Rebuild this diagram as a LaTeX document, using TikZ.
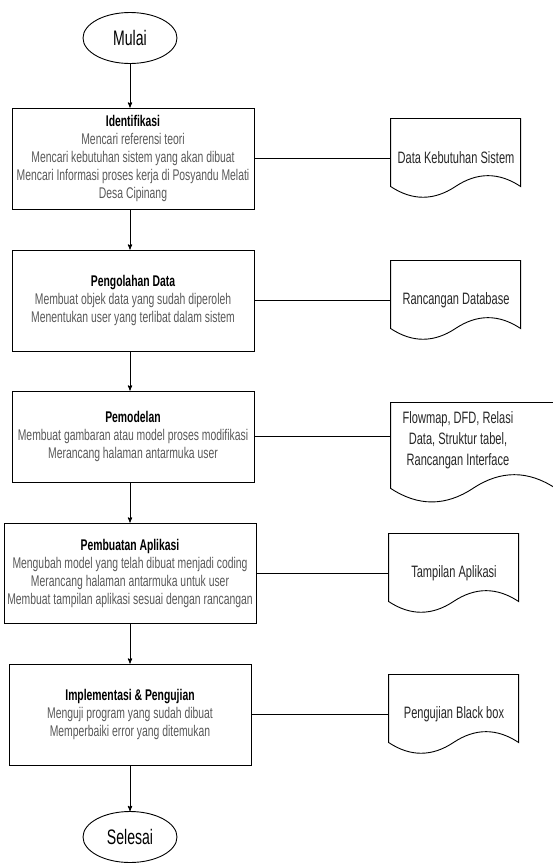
\documentclass[tikz,border=0pt]{standalone}
\usepackage{fontspec}
\setmainfont{Liberation Sans}[FakeStretch=0.67]
\usepackage{tikz}
\usetikzlibrary{arrows, shapes.geometric}
\definecolor{txtgray}{gray}{0.35}

\begin{document}
\begin{tikzpicture}[x=1pt,y=-1pt,>=stealth',line width=0.9pt,
    box/.style={draw,rectangle,minimum width=242pt,align=center,text=txtgray,font=\fontsize{15.5}{18}\selectfont},
    term/.style={draw,ellipse,minimum width=94pt,minimum height=51pt,inner sep=0pt,font=\fontsize{21}{24}\selectfont},
    doc/.style={rectangle,minimum width=130pt,minimum height=80pt,align=center,text=black!85,font=\fontsize{16.5}{21}\selectfont}]
		  \useasboundingbox (0,0) rectangle (552,865);
		  \node[term] (mulai)   at (130,38)       {Mulai};
		  \node[box,minimum height=101pt] (ident) at (133,158.5) {{\color{black}\bfseries Identifikasi}\\Mencari referensi teori\\Mencari kebutuhan sistem yang akan dibuat\\Mencari Informasi proses kerja di Posyandu Melati\\Desa Cipinang};
		  \node[box,minimum height=101pt] (olah) at (133,300.5) {{\color{black}\bfseries Pengolahan Data}\\Membuat objek data yang sudah diperoleh\\Menentukan user yang terlibat dalam sistem};
		  \node[box,minimum height=91pt] (model) at (133,436.5) {{\color{black}\bfseries Pemodelan}\\Membuat gambaran atau model proses modifikasi\\Merancang halaman antarmuka user};
		  \node[box,minimum height=100pt] (buat) at (130,573) {{\color{black}\bfseries Pembuatan Aplikasi}\\Mengubah model yang telah dibuat menjadi coding\\Merancang halaman antarmuka untuk user\\Membuat tampilan aplikasi sesuai dengan rancangan};
		  \node[box,minimum height=101pt] (impl) at (130,714.5) {{\color{black}\bfseries Implementasi \& Pengujian}\\Menguji program yang sudah dibuat\\Memperbaiki error yang ditemukan};
		  \node[term] (selesai) at (130,837)      {Selesai};
		  % dokumen keluaran
		  \node[doc] (dkeb) at (456,158) {Data Kebutuhan Sistem};
		  \node[doc] (drdb) at (456,300) {Rancangan Database};
		  \node[doc,minimum width=134pt,minimum height=101pt,text depth=27pt] (dmodel) at (458,452.5) {Flowmap, DFD, Relasi\\Data, Struktur tabel,\\Rancangan Interface};
		  \node[doc] (dtampil) at (454,573) {Tampilan Aplikasi};
		  \node[doc] (duji) at (454,714) {Pengujian Black box};
		  \foreach \n/\w/\h in {dkeb/130/80, drdb/130/80, dmodel/165/101, dtampil/130/80, duji/130/80}
		    \draw[shift={(\n.south west)}] (0,-\h) -- (\w,-\h) -- (\w,-0.15*\h) .. controls ({5*\w/6},-0.33*\h) and ({2*\w/3},-0.33*\h) .. ({\w/2},-0.15*\h) .. controls ({\w/3},0.03*\h) and ({\w/6},0.03*\h) .. (0,-0.15*\h) -- cycle;
		  \path[->]  (mulai)  edge (mulai |- ident.north);
		  \path[->]  (mulai |- ident.south)  edge (mulai |- olah.north);
		  \path[->]  (mulai |- olah.south)  edge (mulai |- model.north);
		  \path[->]  (mulai |- model.south)  edge (buat);
		  \path[->]  (buat)  edge (impl);
		  \path[->]  (impl)  edge (selesai);
		  \path  (ident.east)  edge (ident.east -| dkeb.west);
		  \path  (olah.east)  edge (olah.east -| drdb.west);
		  \path  (model.east)  edge (model.east -| dmodel.west);
		  \path  (buat.east)  edge (buat.east -| dtampil.west);
		  \path  (impl.east)  edge (impl.east -| duji.west);
		\end{tikzpicture}
\end{document}
